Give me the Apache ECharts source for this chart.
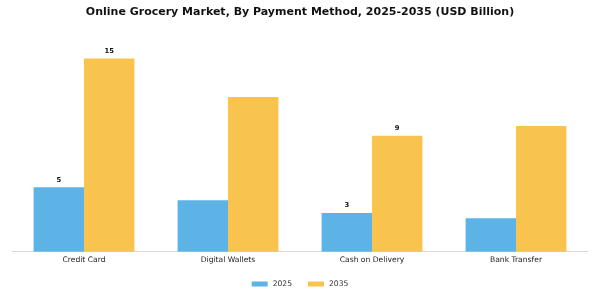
<!DOCTYPE html>
<html><head><meta charset="utf-8">
<script src="https://cdn.jsdelivr.net/npm/echarts@6/dist/echarts.min.js"></script>
<style>html,body{margin:0;padding:0;background:#fff}#c{width:600px;height:300px}</style>
</head><body><div id="c"></div>
<script>
const categories = ['Credit Card', 'Digital Wallets', 'Cash on Delivery', 'Bank Transfer'];
const values2025 = [5, 4, 3, 2.6];
const values2035 = [15, 12, 9, 9.75];
const labelled = [true, false, true, false];
const seriesNames = ['2025', '2035'];

const font = 'DejaVu Sans';
function mk(vals) {
  return vals.map((v, i) => ({ value: v, label: { show: labelled[i] } }));
}
const chart = echarts.init(document.getElementById('c'), null, { renderer: 'canvas' });
chart.setOption({
  animation: false,
  backgroundColor: '#fff',
  title: {
    text: 'Online Grocery Market, By Payment Method, 2025-2035 (USD Billion)',
    left: 'center', top: 2,
    textStyle: { fontFamily: font, fontWeight: 'bold', fontSize: 11, color: '#111' }
  },
  legend: {
    bottom: 7, left: 'center', itemWidth: 16, itemHeight: 5, itemGap: 16,
    icon: 'rect',
    textStyle: { fontFamily: font, fontSize: 7.6, color: '#333' },
    data: seriesNames
  },
  grid: { left: 12, right: 12, top: 45.5, bottom: 48.3 },
  xAxis: {
    type: 'category', data: categories,
    axisLine: { lineStyle: { color: '#d9d9d9' } },
    axisTick: { alignWithLabel: true, length: 3, lineStyle: { color: '#555' } },
    axisLabel: { fontFamily: font, fontSize: 7.6, color: '#222', margin: 4 }
  },
  yAxis: { type: 'value', min: 0, max: 16, show: false, splitLine: { show: false } },
  series: [
    { name: seriesNames[0], type: 'bar', data: mk(values2025), barGap: '0%', barCategoryGap: '30%',
      itemStyle: { color: '#5DB3E6' },
      label: { position: 'top', distance: 4, fontFamily: font, fontWeight: 'bold', fontSize: 6.8, color: '#111' } },
    { name: seriesNames[1], type: 'bar', data: mk(values2035), barGap: '0%', barCategoryGap: '30%',
      itemStyle: { color: '#F9C44D' },
      label: { position: 'top', distance: 4, fontFamily: font, fontWeight: 'bold', fontSize: 6.8, color: '#111' } }
  ]
});
</script></body></html>
